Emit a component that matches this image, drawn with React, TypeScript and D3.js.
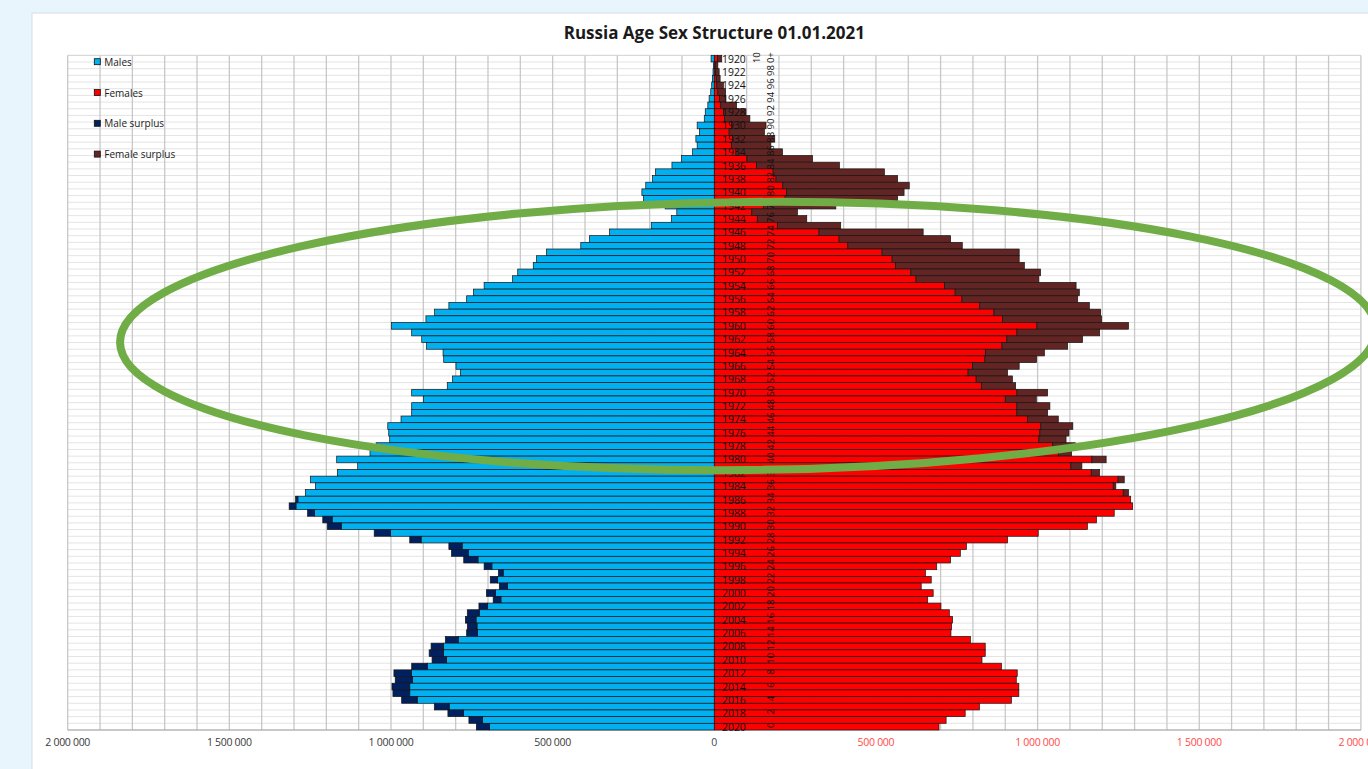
import React from 'react';
import * as d3 from 'd3';

// Birth years (categories), one row each, 1920 (100+) … 2020
const years: number[] = d3.range(1920, 2021);

// Population on 01.01.2021, thousands
const males: number[] = [
  10, 3, 4, 6, 8, 11, 16, 20, 28, 31,
  53, 46, 57, 53, 67, 101, 131, 182, 191, 212,
  224, 219, 152, 116, 133, 195, 324, 386, 413, 519,
  550, 560, 608, 624, 712, 745, 766, 821, 865, 892,
  998, 936, 905, 890, 839, 837, 799, 785, 810, 826,
  936, 900, 936, 936, 969, 1010, 1007, 1004, 1046, 1065,
  1168, 1103, 1166, 1249, 1234, 1265, 1295, 1315, 1258, 1211,
  1197, 1052, 942, 821, 813, 775, 712, 668, 693, 665,
  705, 684, 728, 764, 770, 764, 766, 832, 876, 882,
  873, 936, 991, 987, 997, 994, 967, 866, 824, 759,
  736,
];

const females: number[] = [
  23, 11, 15, 18, 28, 35, 36, 69, 98, 110,
  160, 155, 187, 175, 211, 304, 387, 526, 567, 603,
  587, 567, 376, 257, 286, 391, 646, 731, 767, 943,
  943, 959, 1009, 1004, 1119, 1129, 1124, 1160, 1195, 1198,
  1281, 1192, 1139, 1093, 1021, 997, 943, 907, 922, 932,
  1031, 996, 1038, 1031, 1064, 1109, 1097, 1088, 1117, 1105,
  1212, 1137, 1192, 1268, 1242, 1281, 1288, 1294, 1237, 1182,
  1154, 1002, 907, 780, 761, 731, 688, 653, 671, 640,
  677, 660, 701, 727, 737, 734, 732, 792, 838, 838,
  828, 888, 937, 934, 942, 942, 919, 820, 776, 717,
  695,
];

const tickValues: number[] = [0, 500000, 1000000, 1500000, 2000000];
const legendLabels: string[] = ['Males', 'Females', 'Male surplus', 'Female surplus'];
const legendColors: string[] = ['#00b0f0', '#ff0000', '#002060', '#632523'];
const title = 'Russia Age Sex Structure 01.01.2021';

const W = 1368;
const H = 769;
const CX = 714.3;
const PLOT_L = 67.7;
const PLOT_R = 1360.9;
const PLOT_T = 55.3;
const PLOT_B = 730;
const FONT = "'Open Sans', 'DejaVu Sans', sans-serif";

export default function App() {
  const xL = d3.scaleLinear().domain([0, 2000000]).range([CX, PLOT_L]);
  const xR = d3.scaleLinear().domain([0, 2000000]).range([CX, PLOT_R]);
  const y = d3.scaleBand<number>().domain(years).range([PLOT_T, PLOT_B]).padding(0);
  const bw = y.bandwidth();
  const gridVals = d3.range(0, 2000001, 100000);
  const fmt = (v: number) => d3.format(',')(v).replace(/,/g, ' ');

  const rows = years.map((yr, i) => {
    const m = males[i] * 1000;
    const f = females[i] * 1000;
    const mn = Math.min(m, f);
    return { yr, i, m, f, mn };
  });

  const stroke = '#151515';
  const sw = 0.7;

  return (
    <svg width={W} height={H} style={{ position: 'absolute', left: 0, top: 0 }} fontFamily={FONT}>
      <rect x={0} y={0} width={W} height={H} fill="#e9f5fc" />
      <rect x={32} y={13} width={W} height={H} fill="#ffffff" stroke="#d5dde3" strokeWidth={1} />

      <text x={CX} y={32} textAnchor="middle" dominantBaseline="central" fontSize={17} fontWeight={700} fill="#1a1a1a">
        {title}
      </text>

      {/* horizontal row gridlines */}
      {years.map((yr) => (
        <line key={'h' + yr} x1={PLOT_L} x2={PLOT_R} y1={(y(yr) as number) + bw} y2={(y(yr) as number) + bw} stroke="#e4e4e4" strokeWidth={1} />
      ))}
      {/* vertical gridlines */}
      {gridVals.map((v) => (
        <g key={'v' + v}>
          <line x1={xL(v)} x2={xL(v)} y1={PLOT_T} y2={PLOT_B} stroke="#c8c8c8" strokeWidth={1.3} />
          <line x1={xR(v)} x2={xR(v)} y1={PLOT_T} y2={PLOT_B} stroke="#c8c8c8" strokeWidth={1.3} />
        </g>
      ))}
      <line x1={PLOT_L} x2={PLOT_R} y1={PLOT_T} y2={PLOT_T} stroke="#d0d0d0" strokeWidth={1} />
      <line x1={PLOT_L} x2={PLOT_R} y1={PLOT_B} y2={PLOT_B} stroke="#a0a0a0" strokeWidth={1} />

      {/* bars */}
      {rows.map((r) => {
        const y0 = y(r.yr) as number;
        return (
          <g key={'b' + r.yr}>
            <rect x={xL(r.mn)} y={y0} width={xL(0) - xL(r.mn)} height={bw} fill="#00b0f0" stroke={stroke} strokeWidth={sw} />
            {r.m > r.f && (
              <rect x={xL(r.m)} y={y0} width={xL(r.mn) - xL(r.m)} height={bw} fill="#002060" stroke={stroke} strokeWidth={sw} />
            )}
            <rect x={xR(0)} y={y0} width={xR(r.mn) - xR(0)} height={bw} fill="#ff0000" stroke={stroke} strokeWidth={sw} />
            {r.f > r.m && (
              <rect x={xR(r.mn)} y={y0} width={xR(r.f) - xR(r.mn)} height={bw} fill="#632523" stroke={stroke} strokeWidth={sw} />
            )}
          </g>
        );
      })}

      {/* year labels */}
      {rows.filter((r) => r.i % 2 === 0).map((r) => (
        <text key={'y' + r.yr} x={722} y={(y(r.yr) as number) + bw / 2} dominantBaseline="central" fontSize={10.4} fill="#111">
          {r.yr}
        </text>
      ))}

      {/* age labels, rotated */}
      {rows.filter((r) => r.i % 2 === 0 && r.i > 0).map((r) => {
        const cy = (y(r.yr) as number) + bw / 2 - 1.5;
        return (
          <text key={'a' + r.yr} x={0} y={0} transform={`translate(770,${cy}) rotate(-90)`} textAnchor="middle" dominantBaseline="central" fontSize={9.5} fill="#111">
            {2020 - r.yr}
          </text>
        );
      })}
      <text transform={`translate(756,${(y(1920) as number) + bw / 2 - 1}) rotate(-90)`} textAnchor="middle" dominantBaseline="central" fontSize={9.5} fill="#111">10</text>
      <text transform={`translate(770,${(y(1920) as number) + bw / 2 - 1}) rotate(-90)`} textAnchor="middle" dominantBaseline="central" fontSize={9.5} fill="#111">0+</text>

      {/* axis tick labels */}
      {tickValues.map((v) => (
        <g key={'t' + v}>
          {v > 0 && (
            <text x={xL(v)} y={742} textAnchor="middle" dominantBaseline="central" fontSize={10.5} fill="#3a3a3a" letterSpacing={-0.3}>
              {fmt(v)}
            </text>
          )}
          {v > 0 && (
            <text x={xR(v)} y={742} textAnchor="middle" dominantBaseline="central" fontSize={10.5} fill="#ff4a4a" letterSpacing={-0.3}>
              {fmt(v)}
            </text>
          )}
          {v === 0 && (
            <text x={CX} y={742} textAnchor="middle" dominantBaseline="central" fontSize={10.5} fill="#3d4656">
              0
            </text>
          )}
        </g>
      ))}

      {/* legend */}
      {legendLabels.map((lab, i) => (
        <g key={'l' + i} transform={`translate(94.3,${61.7 + i * 30.8})`}>
          <rect x={0} y={-3} width={6} height={6} fill={legendColors[i]} stroke="#111" strokeWidth={0.8} />
          <text x={10} y={0} dominantBaseline="central" fontSize={10} fill="#1a1a1a">
            {lab}
          </text>
        </g>
      ))}

      {/* green highlight ellipse */}
      <ellipse cx={748} cy={336} rx={628} ry={134} transform="rotate(-0.6 748 336)" fill="none" stroke="#70ad47" strokeWidth={8} />
    </svg>
  );
}
